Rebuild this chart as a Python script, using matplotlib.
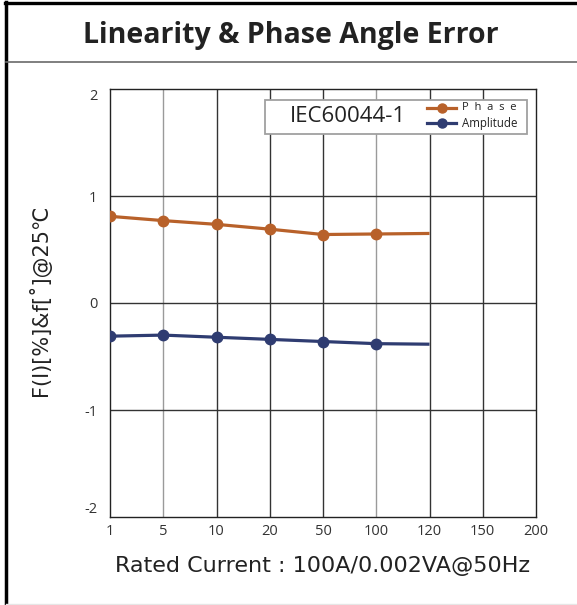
import matplotlib
matplotlib.use("Agg")
import matplotlib.pyplot as plt
from matplotlib.lines import Line2D
from matplotlib.patches import Rectangle

categories = ["1", "5", "10", "20", "50", "100", "120", "150", "200"]
phase = [0.81, 0.77, 0.735, 0.69, 0.64, 0.645, 0.65]
amplitude = [-0.31, -0.30, -0.32, -0.34, -0.36, -0.38, -0.385]
yticks = [-2, -1, 0, 1, 2]

ORANGE = "#b8612a"
NAVY = "#2f3c71"
W, H = 577, 605
fig = plt.figure(figsize=(W / 100, H / 100), dpi=100)
plt.rcParams['font.family'] = ['Open Sans', 'DejaVu Sans']

def fx(px):
    return px / W

def fy(py):
    return 1 - py / H

# outer frame
fig.add_artist(Line2D([fx(6), fx(6)], [fy(2), fy(603)], color="black", lw=2.5))
fig.add_artist(Line2D([fx(5), 1], [fy(3), fy(3)], color="black", lw=2.4))
fig.add_artist(Line2D([fx(6), 1], [fy(62), fy(62)], color="#6a6a6a", lw=1.2))
fig.add_artist(Line2D([fx(6), 1], [fy(603.5), fy(603.5)], color="#e6e6e6", lw=1))

fig.text(fx(291), fy(36), "Linearity & Phase Angle Error", ha="center", va="center",
         fontsize=20.5, fontweight="bold", color="#222222", family=["Open Sans", "DejaVu Sans"])

ax = fig.add_axes([fx(110), fy(517), fx(536) - fx(110), fy(89) - fy(517)])
x = list(range(len(categories)))
ax.set_xlim(0, len(categories) - 1)
ax.set_ylim(-2, 2)

# grid
for i in range(1, len(categories) - 1):
    col = "#9a9a9a" if i in (1, 5) else "#333333"
    ax.axvline(i, color=col, lw=1.0, zorder=1)
for yv in [-1, 0, 1]:
    ax.axhline(yv, color="#333333", lw=1.0, zorder=1)

n = len(phase)
ax.plot(x[:n], phase, color=ORANGE, lw=2.3, marker="o", ms=7.5, markevery=list(range(n - 1)),
        zorder=3, solid_capstyle="butt")
ax.plot(x[:n], amplitude, color=NAVY, lw=2.3, marker="o", ms=7.5, markevery=list(range(n - 1)),
        zorder=3, solid_capstyle="butt")

ax.set_xticks(x)
ax.set_xticklabels(categories)
ax.set_yticks(yticks)
ax.set_yticklabels([str(v) for v in yticks])
ax.tick_params(length=0, labelsize=10.5, labelcolor="#333333")
ax.tick_params(axis="x", pad=5)
ax.tick_params(axis="y", pad=9)
for lab in ax.get_yticklabels():
    if lab.get_text() == "2":
        lab.set_va("top")
    elif lab.get_text() == "-2":
        lab.set_va("bottom")
for s in ax.spines.values():
    s.set_color("#222222")
    s.set_linewidth(1.0)

# legend box
bx0, bx1 = (265 - 110) / 426, (527 - 110) / 426
by0, by1 = 1 - (134 - 89) / 428, 1 - (100 - 89) / 428
ax.add_patch(Rectangle((bx0, by0), bx1 - bx0, by1 - by0, transform=ax.transAxes,
                       facecolor="white", edgecolor="#a0a0a0", lw=1.3, zorder=5))
ax.text((348 - 110) / 426, (by0 + by1) / 2, "IEC60044-1", transform=ax.transAxes,
        ha="center", va="center", fontsize=16, color="#222222", zorder=6)

for py, col, label, fs in [(108, ORANGE, "P  h  a  s  e", 8.0), (123, NAVY, "Amplitude", 8.3)]:
    yy = 1 - (py - 89) / 428
    ax.add_artist(Line2D([(427 - 110) / 426, (456 - 110) / 426], [yy, yy], transform=ax.transAxes,
                         color=col, lw=2.3, zorder=6))
    ax.add_artist(Line2D([(441.5 - 110) / 426], [yy], transform=ax.transAxes, color=col,
                         marker="o", ms=6.5, zorder=7))
    ax.text((462 - 110) / 426, yy, label, transform=ax.transAxes, ha="left", va="center",
            fontsize=fs, color="#222222", zorder=7)

fig.text(fx(40), fy(300), "F(I)[%]&f[˚]@25℃", rotation=90, ha="center", va="center",
         fontsize=15, color="#222222", family=["DejaVu Sans"])
fig.text(fx(323), fy(566), "Rated Current : 100A/0.002VA@50Hz", ha="center", va="center",
         fontsize=16, color="#222222", family=["DejaVu Sans"])

fig.savefig("out.png", dpi=100)
